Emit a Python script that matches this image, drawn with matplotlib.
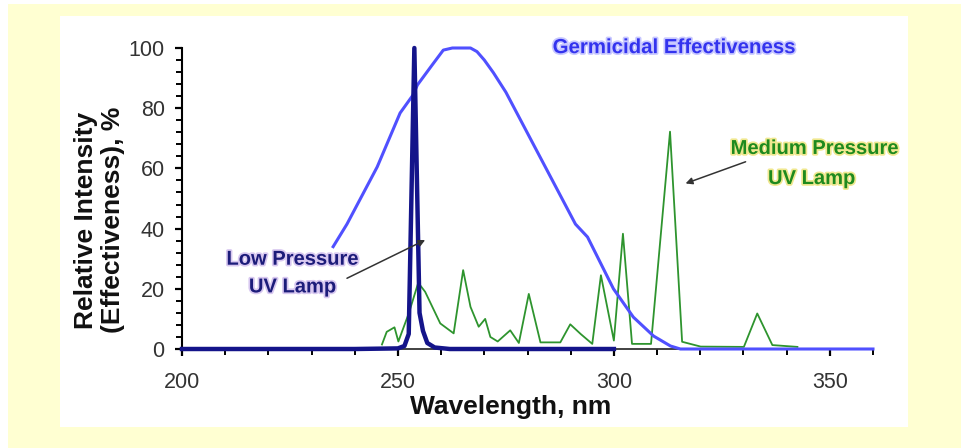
import matplotlib.pyplot as plt
from matplotlib.patches import Rectangle
from matplotlib.ticker import MultipleLocator
import matplotlib.patheffects as pe

# germicidal effectiveness curve (nm, %)
germ_x = [235.0, 238.2, 245.2, 250.5, 253.5, 254.5, 258.0, 260.5, 262.6, 266.8, 268.3,
          270.0, 272.1, 275.0, 291.1, 293.9, 299.9, 304.5, 309.2, 313.1, 315.4, 360.0]
germ_y = [34.0, 41.5, 60.5, 78.4, 84.4, 87.7, 94.5, 99.3, 100.0, 100.0, 98.8,
          96.0, 91.8, 85.3, 41.5, 37.2, 20.0, 10.6, 4.3, 1.0, 0.0, 0.0]

# low pressure lamp
lp_x = [200, 240, 250, 251.5, 252.5, 253.8, 255.0, 255.8, 256.8, 258.5, 262, 300]
lp_y = [0, 0, 0.2, 1, 5, 100, 12, 6, 2, 0.5, 0, 0]

# medium pressure lamp
mp_x = [246.3, 247.4, 249.2, 250.1, 252.5, 254.7, 256.3, 259.8, 262.9, 265.1, 266.8,
        268.7, 270.2, 271.4, 273.1, 276.0, 278.0, 280.3, 283.0, 287.6, 289.9, 292.3,
        295.0, 297.0, 300.0, 302.1, 304.2, 308.6, 313.0, 315.8, 320.1, 330.1, 333.2,
        336.7, 342.5]
mp_y = [1.5, 5.7, 7.2, 2.5, 11.8, 22.0, 19.0, 8.5, 5.2, 26.2, 14.0,
        7.4, 10.0, 4.0, 2.5, 6.2, 2.0, 18.3, 2.2, 2.2, 8.2, 5.0,
        1.7, 24.5, 2.8, 38.3, 1.7, 1.7, 72.2, 2.4, 0.8, 0.7, 11.8,
        1.3, 0.7]

plt.rcParams['font.family'] = ['Liberation Sans', 'DejaVu Sans']

fig = plt.figure(figsize=(9.62, 4.48), dpi=100, facecolor='white')
# yellow slide background + white panel
fig.patches.append(Rectangle((8 / 962, 0), 1, 444 / 448, transform=fig.transFigure,
                             facecolor='#ffffd2', edgecolor='none', zorder=-10))
fig.patches.append(Rectangle((60 / 962, 21 / 448), 848 / 962, 411 / 448,
                             transform=fig.transFigure, facecolor='white',
                             edgecolor='none', zorder=-9))

ax = fig.add_axes([182 / 962, 99 / 448, 691 / 962, 301 / 448])
ax.patch.set_alpha(0)

ax.plot(mp_x, mp_y, color='#2e942e', lw=1.3, zorder=3, clip_on=False)
ax.plot(germ_x, germ_y, color='#5050ff', lw=2.2, zorder=4, clip_on=False)
ax.plot(lp_x, lp_y, color='#14148a', lw=3.2, zorder=5, clip_on=False)

ax.set_xlim(200, 360)
ax.set_ylim(0, 100)
ax.spines['top'].set_visible(False)
ax.spines['right'].set_visible(False)
ax.spines['left'].set_linewidth(1.5)
ax.spines['bottom'].set_linewidth(1.3)
ax.spines['bottom'].set_color('#333333')

ax.xaxis.set_major_locator(MultipleLocator(50))
ax.xaxis.set_minor_locator(MultipleLocator(10))
ax.yaxis.set_major_locator(MultipleLocator(20))
ax.yaxis.set_minor_locator(MultipleLocator(4))
ax.tick_params(axis='both', which='major', direction='out', length=5, width=1.6,
               labelsize=15.5, labelcolor='#333333')
ax.tick_params(axis='both', which='minor', direction='out', length=4, width=1.4)
ax.tick_params(axis='x', which='major', pad=11.5)
ax.tick_params(axis='y', which='major', pad=7.5)

fig.text(510.5 / 962, 34 / 448, 'Wavelength, nm', ha='center', va='baseline',
         fontsize=19, fontweight='bold', color='#111111')
fig.text(99.5 / 962, 1 - 220 / 448, 'Relative Intensity\n(Effectiveness), %',
         rotation=90, ha='center', va='center', multialignment='center',
         fontsize=19, fontweight='bold', color='#111111', linespacing=1.15)

glow_b = [pe.withStroke(linewidth=2.5, foreground='#c8c8ff')]
glow_g = [pe.withStroke(linewidth=2.5, foreground='#f0e890')]
glow_n = [pe.withStroke(linewidth=2.5, foreground='#d8c8f0')]

ax.text(313.9, 98.3, 'Germicidal Effectiveness', ha='center', va='baseline',
        fontsize=14.7, fontweight='bold', color='#3333ee', path_effects=glow_b)
ax.text(346.5, 64.8, 'Medium Pressure', ha='center', va='baseline',
        fontsize=14.5, fontweight='bold', color='#1e8a1e', path_effects=glow_g)
ax.text(345.8, 54.8, 'UV Lamp', ha='center', va='baseline',
        fontsize=14.5, fontweight='bold', color='#1e8a1e', path_effects=glow_g)
ax.text(225.6, 28.0, 'Low Pressure', ha='center', va='baseline',
        fontsize=14.5, fontweight='bold', color='#1c1c7a', path_effects=glow_n)
ax.text(225.6, 18.8, 'UV Lamp', ha='center', va='baseline',
        fontsize=14.5, fontweight='bold', color='#1c1c7a', path_effects=glow_n)

ax.annotate('', xy=(256.3, 36.2), xytext=(238.2, 23.5),
            arrowprops=dict(arrowstyle='-|>', color='#333333', lw=1.1,
                            mutation_scale=10, shrinkA=0, shrinkB=0), zorder=6)
ax.annotate('', xy=(316.6, 55.0), xytext=(330.5, 62.2),
            arrowprops=dict(arrowstyle='-|>', color='#333333', lw=1.1,
                            mutation_scale=10, shrinkA=0, shrinkB=0), zorder=6)

fig.savefig('out.png', dpi=100, facecolor=fig.get_facecolor())
